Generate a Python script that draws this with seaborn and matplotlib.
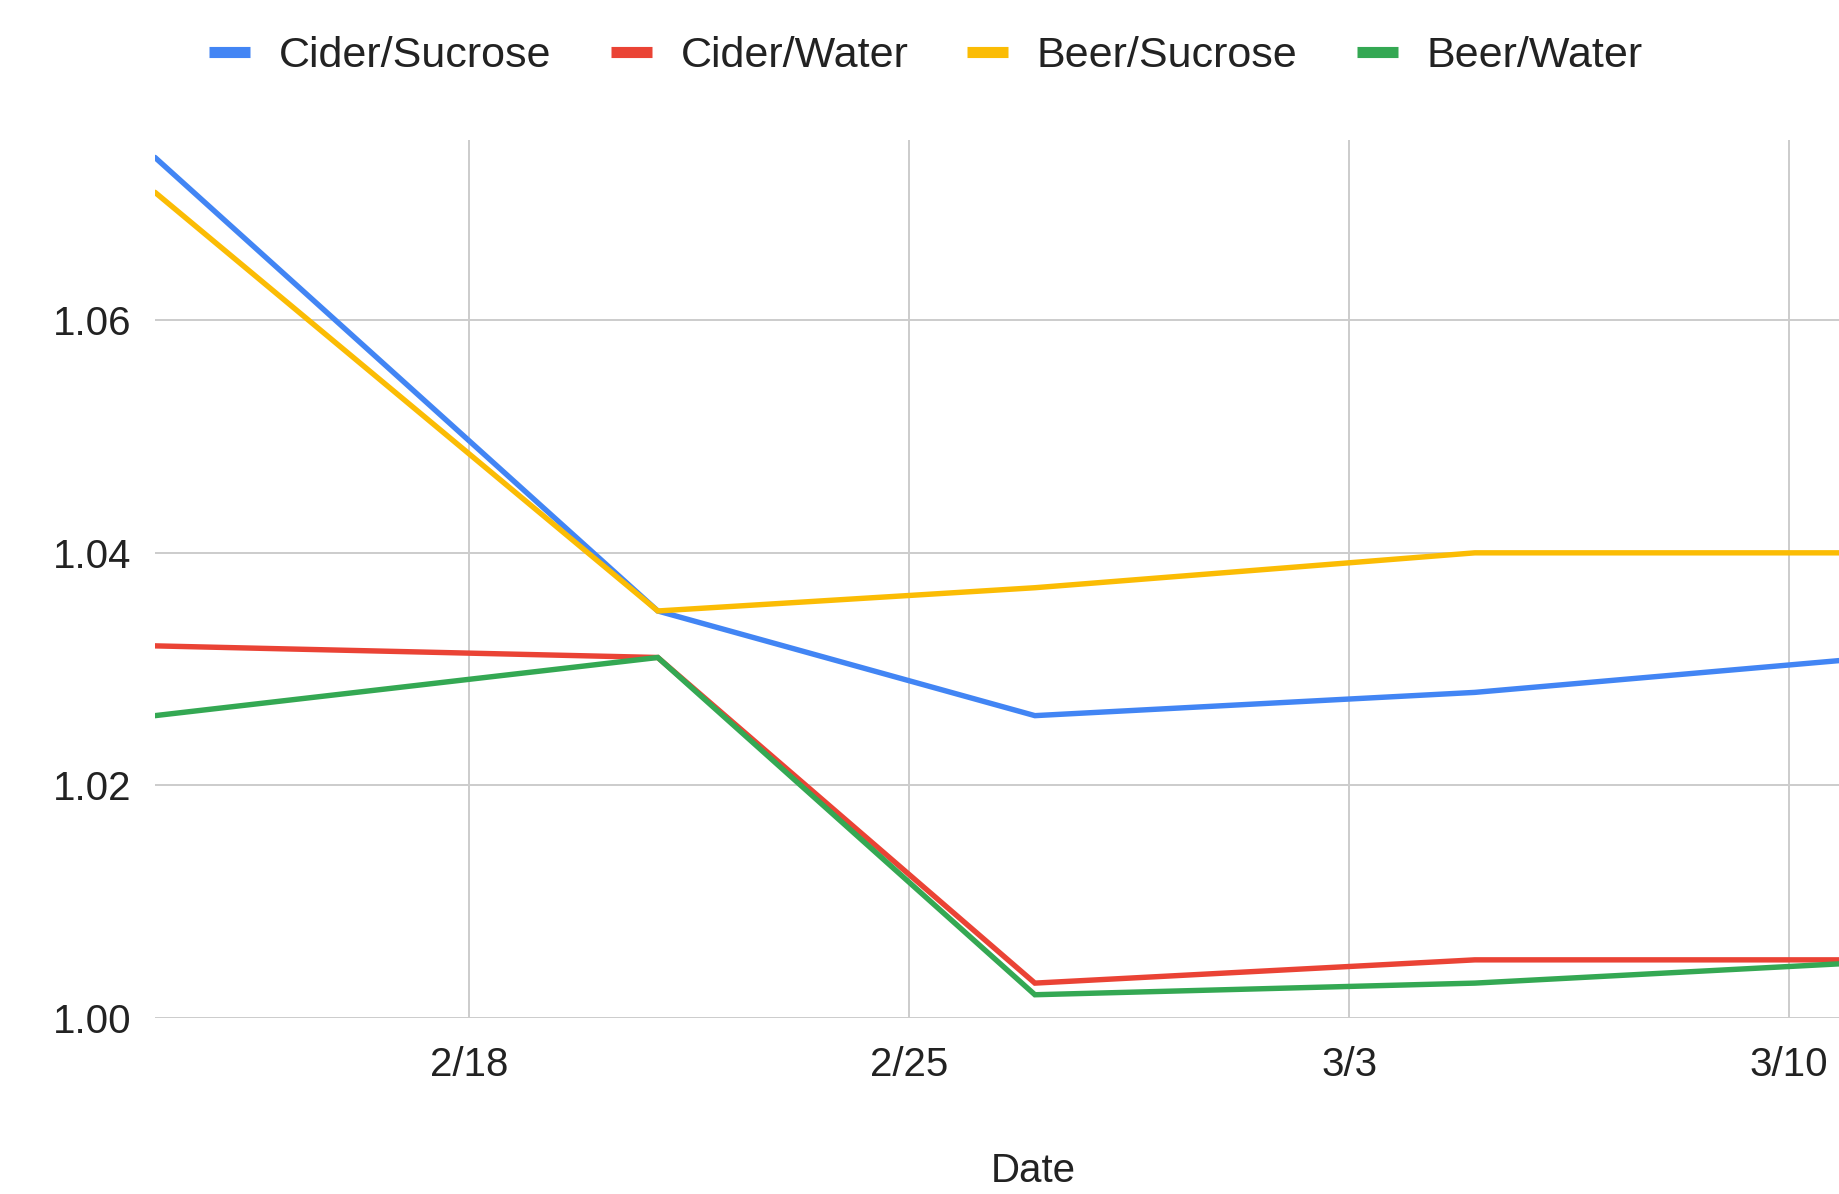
import matplotlib
matplotlib.use("Agg")
import matplotlib.pyplot as plt
import seaborn as sns
import pandas as pd
import numpy as np
from matplotlib.lines import Line2D

# ---- data ----
dates = ["2024-02-13", "2024-02-21", "2024-02-27", "2024-03-05", "2024-03-12"]
cider_sucrose = [1.074, 1.035, 1.026, 1.028, 1.0313]
cider_water = [1.032, 1.031, 1.003, 1.005, 1.005]
beer_sucrose = [1.071, 1.035, 1.037, 1.040, 1.040]
beer_water = [1.026, 1.031, 1.002, 1.003, 1.005]
series_names = ["Cider/Sucrose", "Cider/Water", "Beer/Sucrose", "Beer/Water"]
colors = ["#4285F4", "#EA4335", "#FBBC04", "#34A853"]
xtick_dates = ["2024-02-18", "2024-02-25", "2024-03-03", "2024-03-10"]
xtick_labels = ["2/18", "2/25", "3/3", "3/10"]
ytick_values = [1.00, 1.02, 1.04, 1.06]
ytick_labels = ["1.00", "1.02", "1.04", "1.06"]

sns.set_theme(style="white")
plt.rcParams["font.family"] = ["Liberation Sans", "DejaVu Sans"]

df = pd.DataFrame({
    "Date": pd.to_datetime(dates * 4),
    "Value": cider_sucrose + cider_water + beer_sucrose + beer_water,
    "Series": sum([[n] * len(dates) for n in series_names], []),
})

W, H = 1840, 1194
fig = plt.figure(figsize=(W / 100, H / 100), dpi=100)
left, right, bottom, top = 155, 1840, 1018, 140
ax = fig.add_axes([left / W, 1 - bottom / H, (right - left) / W, (bottom - top) / H])

sns.lineplot(data=df, x="Date", y="Value", hue="Series", palette=colors,
             hue_order=series_names, linewidth=3.9, ax=ax, legend=False,
             solid_joinstyle="miter")

x0 = pd.Timestamp("2024-02-13")
x1 = pd.Timestamp("2024-03-10") + pd.Timedelta(days=0.81)
ax.set_xlim(x0, x1)
ax.set_ylim(1.0, 1.0755)

ax.set_xticks(pd.to_datetime(xtick_dates))
ax.set_xticklabels(xtick_labels)
ax.set_yticks(ytick_values)
ax.set_yticklabels(ytick_labels)

txt_color = "#222222"
ax.tick_params(axis="both", length=0, labelsize=29, colors=txt_color)
ax.tick_params(axis="y", pad=17)
ax.tick_params(axis="x", pad=20)

ax.grid(True, color="#cccccc", linewidth=1.4)
ax.set_axisbelow(True)
for s in ax.spines.values():
    s.set_visible(False)

ax.set_ylabel("")
ax.set_xlabel("")
fig.text(1033 / W, 1 - 1171 / H, "Date", fontsize=29, color=txt_color,
         ha="center", va="center")

handles = [Line2D([0], [0], color=c, linewidth=8, solid_capstyle="butt") for c in colors]
fig.legend(handles, series_names, loc="center", ncol=4,
           bbox_to_anchor=(926 / W, 1 - 56 / H), frameon=False,
           fontsize=31, handlelength=0.95, handletextpad=0.67,
           columnspacing=1.37, labelcolor=txt_color)

fig.savefig("out.png", dpi=100, facecolor="white")
